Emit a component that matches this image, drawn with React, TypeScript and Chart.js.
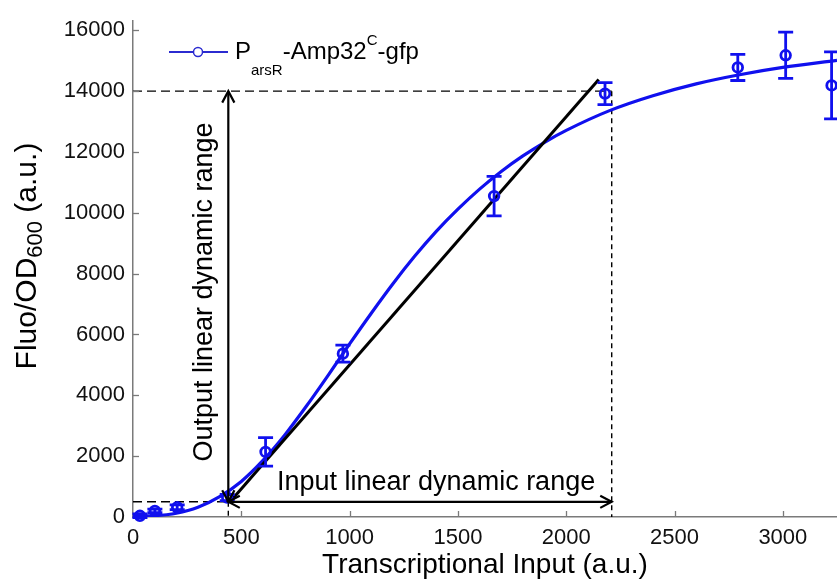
import React, { useEffect, useRef } from "react";
import { Chart, registerables } from "chart.js";

Chart.register(...registerables);

// ---- data ----
const xTicks = [0, 500, 1000, 1500, 2000, 2500, 3000];
const yTicks = [0, 2000, 4000, 6000, 8000, 10000, 12000, 14000, 16000];

const dataX = [32, 101, 204, 435, 612, 969, 1667, 2179, 2792, 3013, 3225];
const dataY = [40, 200, 320, 640, 2140, 5370, 10550, 13920, 14780, 15180, 14190];
const dataErr = [60, 60, 80, 100, 470, 280, 650, 360, 430, 760, 1100];

const fitX = [0, 100, 200, 300, 400, 500, 600, 700, 800, 900, 1000, 1100, 1200, 1300, 1400, 1500, 1600, 1700, 1800, 1900, 2000, 2200, 2400, 2600, 2800, 3000, 3250];
const fitY = [30, 45, 125, 320, 670, 1170, 1860, 2690, 3640, 4650, 5690, 6700, 7670, 8570, 9390, 10120, 10780, 11360, 11870, 12320, 12710, 13360, 13850, 14240, 14540, 14780, 15010];

const linearX = [450, 2150];
const linearY = [520, 14380];

const inputRange = [440, 2210];
const outputRange = [500, 14000];

const xTitle = "Transcriptional Input (a.u.)";
const inputLabel = "Input linear dynamic range";
const outputLabel = "Output linear dynamic range";

const BLUE = "#1010ee";
const FONT = "'Liberation Sans', Arial, sans-serif";
const PLOT_RIGHT = 837;

function drawArrowHead(ctx: CanvasRenderingContext2D, x: number, y: number, ang: number) {
  const L = 13;
  const a = (28 * Math.PI) / 180;
  ctx.beginPath();
  ctx.moveTo(x - L * Math.cos(ang - a), y - L * Math.sin(ang - a));
  ctx.lineTo(x, y);
  ctx.lineTo(x - L * Math.cos(ang + a), y - L * Math.sin(ang + a));
  ctx.stroke();
}

function doubleArrow(ctx: CanvasRenderingContext2D, x1: number, y1: number, x2: number, y2: number) {
  ctx.beginPath();
  ctx.moveTo(x1, y1);
  ctx.lineTo(x2, y2);
  ctx.stroke();
  const ang = Math.atan2(y2 - y1, x2 - x1);
  drawArrowHead(ctx, x2, y2, ang);
  drawArrowHead(ctx, x1, y1, ang + Math.PI);
}

const stretch = {
  id: "stretch",
  afterLayout(chart: any) {
    const x = chart.scales.x;
    x.right = PLOT_RIGHT;
    x.width = PLOT_RIGHT - x.left;
    x.configure();
    chart.chartArea.right = PLOT_RIGHT;
    chart.chartArea.width = PLOT_RIGHT - chart.chartArea.left;
  },
};

const decor = {
  id: "decor",
  afterDatasetsDraw(chart: any) {
    const { ctx, scales } = chart;
    const x = scales.x;
    const y = scales.y;
    ctx.save();
    // error bars
    ctx.strokeStyle = BLUE;
    ctx.lineWidth = 2.8;
    dataX.forEach((v, i) => {
      const px = x.getPixelForValue(v);
      const t = y.getPixelForValue(dataY[i] + dataErr[i]);
      const b = y.getPixelForValue(dataY[i] - dataErr[i]);
      ctx.beginPath();
      ctx.moveTo(px, t);
      ctx.lineTo(px, b);
      ctx.moveTo(px - 7.5, t);
      ctx.lineTo(px + 7.5, t);
      ctx.moveTo(px - 7.5, b);
      ctx.lineTo(px + 7.5, b);
      ctx.stroke();
    });
    // arrows
    ctx.strokeStyle = "#000";
    ctx.lineWidth = 2.2;
    const ax = x.getPixelForValue(inputRange[0]);
    const bx = x.getPixelForValue(inputRange[1]);
    const ay = y.getPixelForValue(outputRange[0]);
    const by = y.getPixelForValue(outputRange[1]);
    doubleArrow(ctx, ax, ay, ax, by);
    doubleArrow(ctx, ax, ay, bx, ay);
    // annotation texts
    ctx.fillStyle = "#000";
    ctx.font = `27px ${FONT}`;
    ctx.textBaseline = "alphabetic";
    ctx.textAlign = "left";
    ctx.fillText(inputLabel, 277, 490);
    ctx.save();
    ctx.translate(212, 292);
    ctx.rotate(-Math.PI / 2);
    ctx.textAlign = "center";
    ctx.fillText(outputLabel, 0, 0);
    ctx.restore();
    ctx.restore();
  },
  afterDraw(chart: any) {
    const { ctx, scales, chartArea } = chart;
    const x = scales.x;
    const y = scales.y;
    ctx.save();
    // inward ticks
    ctx.strokeStyle = "#7a7a7a";
    ctx.lineWidth = 1.3;
    xTicks.forEach((v) => {
      if (v === 0) return;
      const px = Math.round(x.getPixelForValue(v)) + 0.5;
      ctx.beginPath();
      ctx.moveTo(px, chartArea.bottom);
      ctx.lineTo(px, chartArea.bottom - 6);
      ctx.stroke();
    });
    yTicks.forEach((v) => {
      if (v === 0) return;
      const py = Math.round(y.getPixelForValue(v)) + 0.5;
      ctx.beginPath();
      ctx.moveTo(chartArea.left, py);
      ctx.lineTo(chartArea.left + 6, py);
      ctx.stroke();
    });
    // x title
    ctx.fillStyle = "#000";
    ctx.textBaseline = "alphabetic";
    ctx.textAlign = "center";
    ctx.font = `28px ${FONT}`;
    ctx.fillText(xTitle, 485, 573);
    // y title with subscript
    ctx.save();
    ctx.translate(36, 256);
    ctx.rotate(-Math.PI / 2);
    ctx.textAlign = "left";
    const parts: [string, number, number][] = [
      ["Fluo/OD", 30, 0],
      ["600", 22, 6],
      [" (a.u.)", 30, 0],
    ];
    let total = 0;
    parts.forEach(([t, s]) => {
      ctx.font = `${s}px ${FONT}`;
      total += ctx.measureText(t).width;
    });
    let cx = -total / 2;
    parts.forEach(([t, s, dy]) => {
      ctx.font = `${s}px ${FONT}`;
      ctx.fillText(t, cx, dy);
      cx += ctx.measureText(t).width;
    });
    ctx.restore();
    // legend
    ctx.strokeStyle = "#2b2bd0";
    ctx.lineWidth = 2;
    ctx.beginPath();
    ctx.moveTo(169, 52);
    ctx.lineTo(228, 52);
    ctx.stroke();
    ctx.beginPath();
    ctx.arc(198, 52, 4.5, 0, Math.PI * 2);
    ctx.fillStyle = "#fff";
    ctx.fill();
    ctx.lineWidth = 1.5;
    ctx.stroke();
    ctx.fillStyle = "#000";
    ctx.textAlign = "left";
    const lparts: [string, number, number][] = [
      ["P", 24, 59],
      ["arsR", 15, 75],
      ["-Amp32", 24, 59],
      ["C", 15, 45],
      ["-gfp", 24, 59],
    ];
    let lx = 235;
    lparts.forEach(([t, s, by]) => {
      ctx.font = `${s}px ${FONT}`;
      ctx.fillText(t, lx, by);
      lx += ctx.measureText(t).width;
    });
    ctx.restore();
  },
};

export default function App() {
  const ref = useRef<HTMLCanvasElement>(null);
  useEffect(() => {
    const canvas = ref.current!;
    const tickFont = { family: FONT, size: 22 };
    const plain = (v: any) => String(v);
    const chart = new Chart(canvas, {
      type: "scatter",
      data: {
        datasets: [
          {
            label: "data",
            data: dataX.map((v, i) => ({ x: v, y: dataY[i] })),
            showLine: false,
            pointStyle: "circle",
            pointRadius: 4.8,
            pointBorderWidth: 2.8,
            pointBorderColor: BLUE,
            pointBackgroundColor: "rgba(0,0,0,0)",
            clip: false,
            order: 0,
          },
          {
            label: "linear",
            data: linearX.map((v, i) => ({ x: v, y: linearY[i] })),
            showLine: true,
            borderColor: "#000",
            borderWidth: 3,
            pointRadius: 0,
            order: 1,
          },
          {
            label: "fit",
            data: fitX.map((v, i) => ({ x: v, y: fitY[i] })),
            showLine: true,
            borderColor: BLUE,
            borderWidth: 3.2,
            pointRadius: 0,
            cubicInterpolationMode: "monotone",
            order: 2,
          },
          {
            label: "dash-top",
            data: [
              { x: 0, y: outputRange[1] },
              { x: inputRange[1], y: outputRange[1] },
            ],
            showLine: true,
            borderColor: "#000",
            borderWidth: 1.4,
            borderDash: [9, 5],
            pointRadius: 0,
            order: 3,
          },
          {
            label: "dash-right",
            data: [
              { x: inputRange[1], y: outputRange[1] },
              { x: inputRange[1], y: 0 },
            ],
            showLine: true,
            borderColor: "#000",
            borderWidth: 1.4,
            borderDash: [5, 4],
            pointRadius: 0,
            order: 3,
          },
          {
            label: "dash-low",
            data: [
              { x: 0, y: outputRange[0] },
              { x: inputRange[0], y: outputRange[0] },
            ],
            showLine: true,
            borderColor: "#000",
            borderWidth: 1.4,
            borderDash: [9, 5],
            pointRadius: 0,
            order: 3,
          },
          {
            label: "dash-left",
            data: [
              { x: inputRange[0], y: outputRange[0] },
              { x: inputRange[0], y: 0 },
            ],
            showLine: true,
            borderColor: "#000",
            borderWidth: 1.4,
            borderDash: [5, 4],
            pointRadius: 0,
            order: 3,
          },
        ],
      },
      options: {
        responsive: false,
        devicePixelRatio: 1,
        animation: false,
        layout: { padding: { top: 18, right: 0, left: 0, bottom: 0 } },
        plugins: { legend: { display: false }, tooltip: { enabled: false } },
        scales: {
          x: {
            type: "linear",
            min: 0,
            max: 3250,
            afterBuildTicks: (s: any) => {
              s.ticks = xTicks.map((v) => ({ value: v }));
            },
            afterFit: (s: any) => {
              s.height = 64;
            },
            grid: { display: false, drawTicks: false },
            border: { display: true, color: "#7a7a7a", width: 1.5 },
            ticks: { font: tickFont, color: "#111", padding: 8, maxRotation: 0, autoSkip: false, callback: plain },
          },
          y: {
            type: "linear",
            min: 0,
            max: 16300,
            afterBuildTicks: (s: any) => {
              s.ticks = yTicks.map((v) => ({ value: v }));
            },
            afterFit: (s: any) => {
              s.width = 133;
            },
            grid: { display: false, drawTicks: false },
            border: { display: true, color: "#7a7a7a", width: 1.5 },
            ticks: { font: tickFont, color: "#111", padding: 8, autoSkip: false, callback: plain },
          },
        },
      } as any,
      plugins: [stretch, decor],
    } as any);
    return () => chart.destroy();
  }, []);
  return (
    <div style={{ position: "fixed", left: 0, top: 0, width: 837, height: 581, background: "#fff" }}>
      <canvas ref={ref} width={837} height={581} style={{ width: 837, height: 581, display: "block" }} />
    </div>
  );
}
